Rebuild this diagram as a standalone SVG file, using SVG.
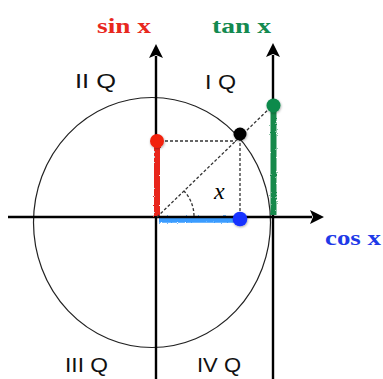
<svg xmlns="http://www.w3.org/2000/svg" width="383" height="379" viewBox="0 0 383 379">
<defs>
<style>
.axis{stroke:#000;stroke-width:2.4;fill:none}
.dash{stroke:#333;stroke-width:1.3;stroke-dasharray:3 2;fill:none}
.q{font-family:"Liberation Sans",Arial,sans-serif;font-size:20px;fill:#111}
.fn{font-family:"Liberation Serif","Times New Roman",serif;font-size:22px;font-weight:bold}
.rough{filter:url(#rough)}
.dot{filter:url(#shadow)}
</style>
<marker id="ah" viewBox="0 0 14 14" refX="2" refY="7" markerWidth="14" markerHeight="14" markerUnits="userSpaceOnUse" orient="auto">
<path d="M0,0 L14,7 L0,14 L3,7 Z" fill="#000"/>
</marker>
<filter id="rough" filterUnits="userSpaceOnUse" x="0" y="0" width="383" height="379">
<feTurbulence type="fractalNoise" baseFrequency="0.9" numOctaves="2" seed="3"/>
<feDisplacementMap in="SourceGraphic" scale="2.5" xChannelSelector="R" yChannelSelector="G"/>
</filter>
<filter id="shadow" x="-60%" y="-60%" width="220%" height="220%">
<feDropShadow dx="0.5" dy="1" stdDeviation="1.2" flood-color="#000" flood-opacity="0.35"/>
</filter>
</defs>
<rect width="383" height="379" fill="#fff"/>
<ellipse id="circle" cx="152" cy="222.5" rx="118.5" ry="125" fill="none" stroke="#222" stroke-width="1.2"/>
<line id="cos-segment" class="rough" x1="159" y1="219.5" x2="238" y2="219.5" stroke="#3a9cff" stroke-width="6.5"/>
<g id="axes">
<line class="axis" x1="8" y1="217" x2="312" y2="217" marker-end="url(#ah)"/>
<line class="axis" x1="156" y1="379" x2="156" y2="56" marker-end="url(#ah)"/>
<line class="axis" x1="273" y1="379" x2="273" y2="55" marker-end="url(#ah)"/>
</g>
<g id="colored-segments">
<line class="rough" x1="157" y1="144" x2="157" y2="216" stroke="#e8281e" stroke-width="6"/>
<line class="rough" x1="273.5" y1="108" x2="273.5" y2="215" stroke="#13894c" stroke-width="6"/>
</g>
<g id="connectors">
<line class="dash" x1="157" y1="217" x2="273" y2="105"/>
<line class="dash" x1="160" y1="141" x2="236" y2="141"/>
<line class="dash" x1="240" y1="138" x2="240" y2="214"/>
<path class="dash" d="M194,216 A37,37 0 0 0 184,191"/>
</g>
<g id="node-sin" class="dot"><circle cx="157" cy="141" r="7" fill="#f2200e"/></g>
<g id="node-point" class="dot"><circle cx="240" cy="134" r="6.5" fill="#000"/></g>
<g id="node-tan" class="dot"><circle cx="273.5" cy="105.5" r="7" fill="#0e8a4c"/></g>
<g id="node-cos" class="dot"><circle cx="240" cy="219" r="7.3" fill="#1430ff"/></g>
<g id="labels">
<text class="fn" x="97" y="32.5" fill="#e8281e" textLength="54" lengthAdjust="spacingAndGlyphs">sin x</text>
<text class="fn" x="212" y="32.5" fill="#138a50" textLength="59" lengthAdjust="spacingAndGlyphs">tan x</text>
<text class="fn" x="325" y="245" fill="#1f3ae8" textLength="56" lengthAdjust="spacingAndGlyphs">cos x</text>
<text x="214" y="199" font-family="'Liberation Serif','Times New Roman',serif" font-style="italic" font-size="24" fill="#000">x</text>
<text class="q" x="75" y="88" textLength="41" lengthAdjust="spacingAndGlyphs">II Q</text>
<text class="q" x="205" y="89" textLength="31" lengthAdjust="spacingAndGlyphs">I Q</text>
<text class="q" x="65" y="372" textLength="43" lengthAdjust="spacingAndGlyphs">III Q</text>
<text class="q" x="197" y="372" textLength="44" lengthAdjust="spacingAndGlyphs">IV Q</text>
</g>
</svg>
